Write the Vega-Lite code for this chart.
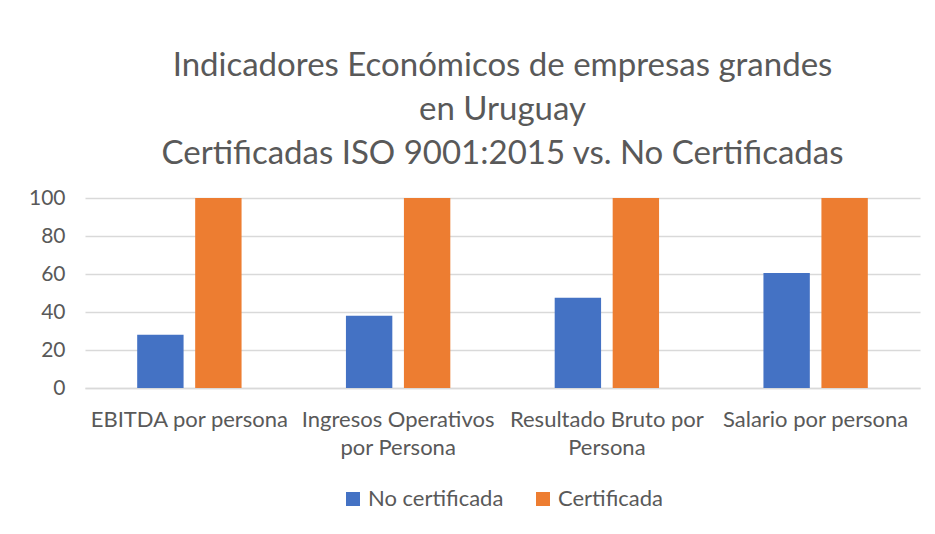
{
  "$schema": "https://vega.github.io/schema/vega-lite/v6.json",
  "width": 835,
  "height": 190,
  "padding": {"left": 28, "top": 50, "right": 15, "bottom": 10},
  "background": "white",
  "title": {
    "text": ["Indicadores Económicos de empresas grandes", "en Uruguay", "Certificadas ISO 9001:2015 vs.  No Certificadas"],
    "font": "Lato",
    "fontSize": 33,
    "fontWeight": "normal",
    "color": "#595959",
    "lineHeight": 44,
    "anchor": "middle",
    "offset": 16
  },
  "data": {
    "values": [
      {"indicador": "EBITDA por persona", "grupo": "No certificada", "valor": 28},
      {"indicador": "EBITDA por persona", "grupo": "Certificada", "valor": 100},
      {"indicador": "Ingresos Operativos por Persona", "grupo": "No certificada", "valor": 38},
      {"indicador": "Ingresos Operativos por Persona", "grupo": "Certificada", "valor": 100},
      {"indicador": "Resultado Bruto por Persona", "grupo": "No certificada", "valor": 47.5},
      {"indicador": "Resultado Bruto por Persona", "grupo": "Certificada", "valor": 100},
      {"indicador": "Salario por persona", "grupo": "No certificada", "valor": 60.5},
      {"indicador": "Salario por persona", "grupo": "Certificada", "valor": 100}
    ]
  },
  "mark": {"type": "bar"},
  "encoding": {
    "x": {
      "field": "indicador",
      "type": "nominal",
      "sort": null,
      "title": null,
      "scale": {"paddingInner": 0.5, "paddingOuter": 0.25},
      "axis": {
        "labelAngle": 0,
        "labelFont": "Lato",
        "labelFontSize": 22,
        "labelColor": "#595959",
        "labelPadding": 21,
        "labelLineHeight": 28,
        "labelLimit": 260,
        "ticks": false,
        "domain": true,
        "domainColor": "#d9d9d9",
        "domainWidth": 1.5,
        "labelExpr": "datum.label == 'Ingresos Operativos por Persona' ? ['Ingresos Operativos', 'por Persona'] : datum.label == 'Resultado Bruto por Persona' ? ['Resultado Bruto por', 'Persona'] : datum.label"
      }
    },
    "xOffset": {
      "field": "grupo",
      "type": "nominal",
      "sort": ["No certificada", "Certificada"],
      "scale": {"paddingInner": 0.2}
    },
    "y": {
      "field": "valor",
      "type": "quantitative",
      "title": null,
      "scale": {"domain": [0, 100]},
      "axis": {
        "values": [0, 20, 40, 60, 80, 100],
        "labelFont": "Lato",
        "labelFontSize": 21,
        "labelColor": "#595959",
        "labelPadding": 20,
        "ticks": false,
        "domain": false,
        "gridColor": "#d9d9d9",
        "gridWidth": 1.5
      }
    },
    "color": {
      "field": "grupo",
      "type": "nominal",
      "sort": ["No certificada", "Certificada"],
      "scale": {"domain": ["No certificada", "Certificada"], "range": ["#4472c4", "#ed7d31"]},
      "legend": {
        "orient": "bottom",
        "direction": "horizontal",
        "title": null,
        "symbolType": "square",
        "symbolSize": 196,
        "symbolStrokeWidth": 0,
        "labelOffset": 4,
        "labelFont": "Lato",
        "labelFontSize": 22,
        "labelColor": "#595959",
        "columnPadding": 28,
        "offset": 30
      }
    }
  },
  "config": {
    "view": {"stroke": null},
    "legend": {"layout": {"bottom": {"anchor": "middle"}}}
  }
}
